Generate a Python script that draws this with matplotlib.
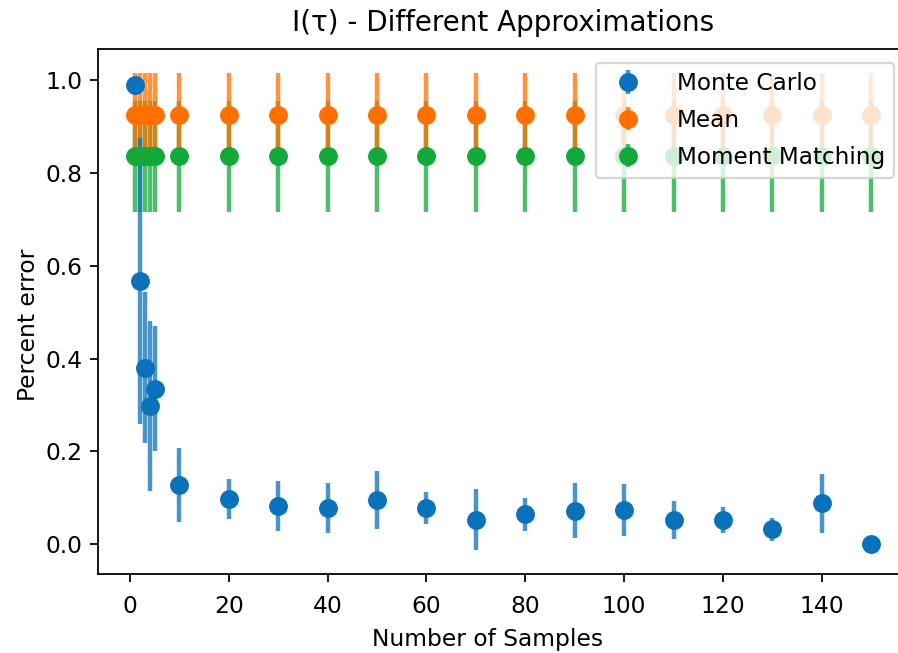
import matplotlib
matplotlib.use("Agg")
import matplotlib.pyplot as plt
from matplotlib.colors import to_rgba

# ---- data ----
samples = [1, 2, 3, 4, 5, 10, 20, 30, 40, 50, 60, 70, 80, 90, 100, 110, 120, 130, 140, 150]
mc_mean = [0.989, 0.567, 0.380, 0.298, 0.335, 0.128, 0.097, 0.083, 0.078, 0.095, 0.078,
           0.053, 0.064, 0.072, 0.074, 0.053, 0.052, 0.032, 0.088, 0.0]
mc_err = [0.0, 0.308, 0.163, 0.183, 0.135, 0.080, 0.043, 0.054, 0.053, 0.062, 0.034,
          0.066, 0.035, 0.059, 0.056, 0.041, 0.027, 0.025, 0.064, 0.0]
mean_val = [0.926] * len(samples)
mean_err = [0.090] * len(samples)
mm_val = [0.836] * len(samples)
mm_err = [0.120] * len(samples)

labels = ["Monte Carlo", "Mean", "Moment Matching"]
title = "I(τ) - Different Approximations"

c_blue = "#0a72ba"
c_orange = "#ff7000"
c_green = "#12a83a"
bar_alpha = 0.75

DPI = 160
fig = plt.figure(figsize=(898 / DPI, 653 / DPI), dpi=DPI)
ax = fig.add_axes([98 / 898, 79 / 653, 810 / 898, 525 / 653])

kw = dict(fmt="o", markersize=7.5, elinewidth=2)
h_mm = ax.errorbar(samples, mm_val, yerr=mm_err, color=c_green,
                   ecolor=to_rgba(c_green, bar_alpha), label=labels[2], **kw)
h_mean = ax.errorbar(samples, mean_val, yerr=mean_err, color=c_orange,
                     ecolor=to_rgba(c_orange, bar_alpha), label=labels[1], **kw)
h_mc = ax.errorbar(samples, mc_mean, yerr=mc_err, color=c_blue,
                   ecolor=to_rgba(c_blue, bar_alpha), label=labels[0], **kw)

ax.set_title(title, fontsize=12.5, pad=8)
ax.set_xlabel("Number of Samples", fontsize=10.5)
ax.set_ylabel("Percent error", fontsize=10.5)
ax.xaxis.set_label_coords(0.481, -0.102)
ax.yaxis.set_label_coords(-0.071, 0.474)
ax.set_xticks([0, 20, 40, 60, 80, 100, 120, 140])
ax.set_yticks([0.0, 0.2, 0.4, 0.6, 0.8, 1.0])
ax.tick_params(axis="both", labelsize=10.5)
ax.tick_params(axis="x", pad=6)
ax.legend([h_mc, h_mean, h_mm], labels, loc="upper right", fontsize=10.4,
          labelspacing=0.6, handletextpad=1.1, borderaxespad=0.6)

fig.savefig("out.png", dpi=DPI)
